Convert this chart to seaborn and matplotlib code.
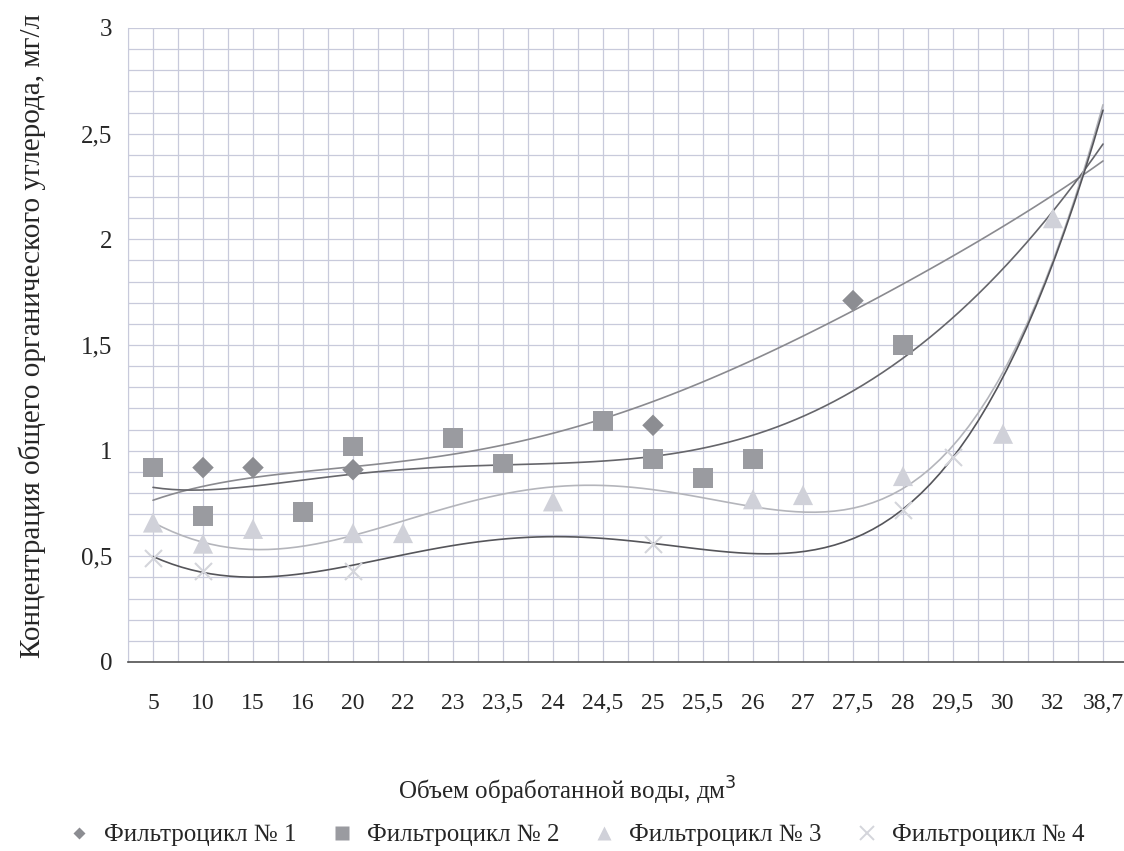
import numpy as np
import pandas as pd
import matplotlib
matplotlib.use("Agg")
import matplotlib.pyplot as plt
from matplotlib.ticker import MultipleLocator, FixedLocator, FuncFormatter
from matplotlib.lines import Line2D
import seaborn as sns

# объемы обработанной воды (категории оси X)
categories = ["5", "10", "15", "16", "20", "22", "23", "23,5", "24", "24,5",
              "25", "25,5", "26", "27", "27,5", "28", "29,5", "30", "32", "38,7"]

# измеренные точки
s1_cats = ["10", "15", "20", "25", "27,5"]
s1_vals = [0.92, 0.92, 0.91, 1.12, 1.71]

s2_cats = ["5", "10", "16", "20", "23", "23,5", "24,5", "25", "25,5", "26", "28"]
s2_vals = [0.92, 0.69, 0.71, 1.02, 1.06, 0.94, 1.14, 0.96, 0.87, 0.96, 1.50]

s3_cats = ["5", "10", "15", "20", "22", "24", "26", "27", "28", "30", "32"]
s3_vals = [0.66, 0.56, 0.63, 0.61, 0.61, 0.76, 0.77, 0.79, 0.88, 1.08, 2.10]

s4_cats = ["5", "10", "20", "25", "28", "29,5"]
s4_vals = [0.49, 0.43, 0.43, 0.56, 0.72, 0.97]

t1_vals = [0.77, 0.82, 0.875, 0.905, 0.93, 0.95, 0.98, 1.02, 1.08, 1.15,
           1.24, 1.33, 1.43, 1.54, 1.66, 1.78, 1.93, 2.06, 2.21, 2.37]
t2_vals = [0.82, 0.825, 0.84, 0.85, 0.875, 0.91, 0.935, 0.94, 0.94, 0.95,
           0.97, 1.01, 1.07, 1.16, 1.28, 1.44, 1.64, 1.87, 2.11, 2.46]
t3_vals = [0.66, 0.575, 0.52, 0.54, 0.61, 0.675, 0.74, 0.79, 0.83, 0.83,
           0.80, 0.775, 0.74, 0.73, 0.75, 0.81, 0.98, 1.37, 1.94, 2.62]
t4_vals = [0.50, 0.425, 0.395, 0.42, 0.46, 0.51, 0.555, 0.58, 0.59, 0.58,
           0.56, 0.53, 0.515, 0.53, 0.60, 0.71, 0.96, 1.33, 1.92, 2.60]

names = ["Фильтроцикл № 1", "Фильтроцикл № 2", "Фильтроцикл № 3", "Фильтроцикл № 4"]

series = [(s1_cats, s1_vals), (s2_cats, s2_vals), (s3_cats, s3_vals), (s4_cats, s4_vals)]
rows = []
for name, (cats, vals) in zip(names, series):
    for c, v in zip(cats, vals):
        rows.append({"pos": categories.index(c), "value": v, "series": name})
df = pd.DataFrame(rows)

trends = pd.DataFrame({"pos": np.arange(len(categories)),
                       names[0]: t1_vals, names[1]: t2_vals,
                       names[2]: t3_vals, names[3]: t4_vals})

sns.set_style("white")
plt.rcParams["font.family"] = ["Liberation Serif", "DejaVu Serif"]

marker_col = ["#8c8d92", "#9a9ba0", "#d0d1d9", "#d4d5db"]
line_col = ["#8a8a8f", "#66666b", "#b4b5bb", "#55555a"]

fig = plt.figure(figsize=(11.24, 8.51), dpi=100)
# область построения уходит чуть за правый край, как на скане
ax = fig.add_axes([128 / 1124, 1 - 662 / 851, 1000 / 1124, 634 / 851])

for i, name in enumerate(names):
    sns.regplot(data=trends, x="pos", y=name, order=6, scatter=False, ci=None,
                truncate=True, ax=ax, line_kws={"color": line_col[i], "lw": 1.2, "zorder": 3})

d = df[df.series == names[0]]
sns.scatterplot(data=d, x="pos", y="value", marker="D", s=120, color=marker_col[0],
                edgecolor="none", ax=ax, zorder=4)
d = df[df.series == names[1]]
sns.scatterplot(data=d, x="pos", y="value", marker="s", s=200, color=marker_col[1],
                edgecolor="none", ax=ax, zorder=4)
d = df[df.series == names[2]]
sns.scatterplot(data=d, x="pos", y="value", marker="^", s=210, color=marker_col[2],
                edgecolor="none", ax=ax, zorder=4)
d = df[df.series == names[3]]
ax.scatter(d.pos, d.value, marker="x", s=150, color=marker_col[3], linewidths=1.5, zorder=4)

ax.set_xlim(-0.5, 19.5)
ax.set_ylim(0, 3)
ax.set_xticks(range(len(categories)))
ax.set_xticklabels(categories)
ax.xaxis.set_minor_locator(FixedLocator(np.arange(-0.5, 20, 1.0)))
ax.yaxis.set_major_locator(MultipleLocator(0.5))
ax.yaxis.set_minor_locator(MultipleLocator(0.1))
ax.yaxis.set_major_formatter(FuncFormatter(lambda v, p: f"{v:g}".replace(".", ",")))
ax.grid(which="both", color="#c8cadb", lw=0.9)
ax.set_axisbelow(True)
for s in ["top", "right"]:
    ax.spines[s].set_visible(False)
ax.spines["left"].set_color("#c8cadb")
ax.spines["bottom"].set_color("#505050")
ax.spines["bottom"].set_linewidth(1.2)
ax.tick_params(axis="x", which="major", length=0, pad=22, labelsize=17)
ax.tick_params(axis="x", which="minor", length=6, color="#666666")
ax.tick_params(axis="y", which="major", length=5, color="#999999", pad=6, labelsize=18)
ax.tick_params(axis="y", which="minor", length=0)

ax.set_xlabel("Объем обработанной воды, дм$^3$", fontsize=18)
ax.xaxis.set_label_coords(0.439, -0.178)
ax.set_ylabel("Концентрация общего органического углерода, мг/л", fontsize=21)
ax.yaxis.set_label_coords(-0.082, 0.514)

handles = [Line2D([], [], ls="none", marker="D", ms=6, color=marker_col[0], mec="none"),
           Line2D([], [], ls="none", marker="s", ms=10, color=marker_col[1], mec="none"),
           Line2D([], [], ls="none", marker="^", ms=10, color=marker_col[2], mec="none"),
           Line2D([], [], ls="none", marker="x", ms=10, color=marker_col[3], mew=1.4)]
fig.legend(handles, names, loc="center", bbox_to_anchor=(0.512, 1 - 835 / 851), ncol=4,
           frameon=False, fontsize=18, handlelength=1.0, handletextpad=0.5,
           columnspacing=1.3)

plt.savefig("out.png", dpi=100)
plt.close()
